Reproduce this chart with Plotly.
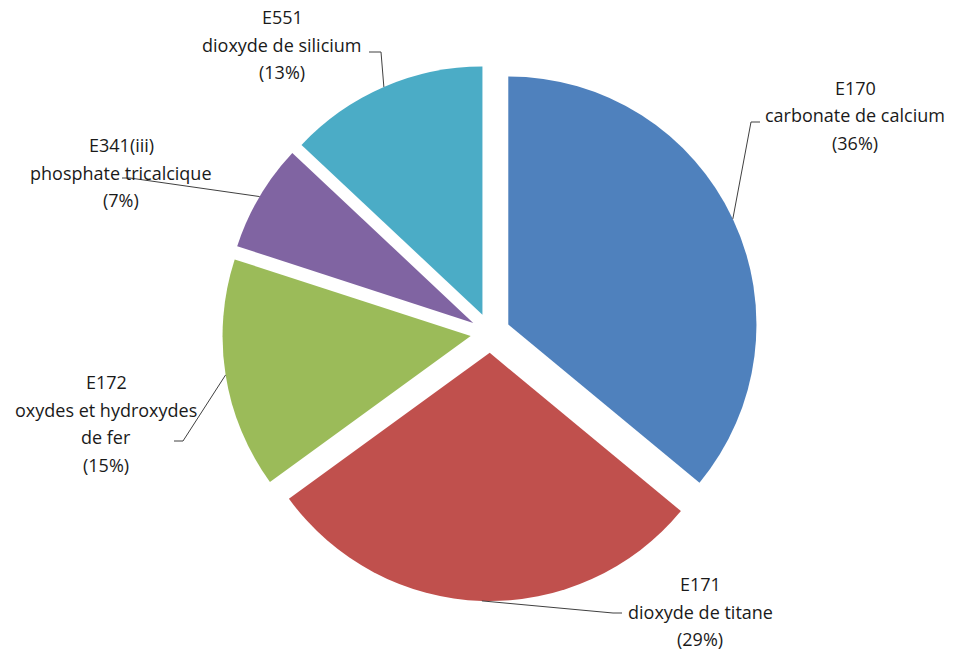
import math
import plotly.graph_objects as go

# ---- data ----
codes = ["E170", "E171", "E172", "E341(iii)", "E551"]
names = [
    ["carbonate de calcium"],
    ["dioxyde de titane"],
    ["oxydes et hydroxydes", "de fer"],
    ["phosphate tricalcique"],
    ["dioxyde de silicium"],
]
values = [36, 29, 15, 7, 13]

# ---- style / layout ----
colors = ["#4F81BD", "#C0504D", "#9BBB59", "#8064A2", "#4BACC6"]
W, H = 953, 657
pull = 0.08
dom_x = [0.2035, 0.8255]
dom_y = [0.0852, 0.9011]
font_family = "Open Sans"
font_size = 18
line_gap = 27.5
# label placement (pixels): text centre x, first line y, elbow point, hook end
label_cx = [855, 700, 106, 121, 282]
label_y0 = [88, 584, 382, 145, 17]
elbow = [(751, 122), (613, 613), (183, 441), (130, 178), (381, 52)]
hook_end = [(760, 122), (622, 613), (174, 441), (122, 178), (369, 52)]

fig = go.Figure(go.Pie(
    values=values,
    labels=codes,
    sort=False,
    direction="clockwise",
    rotation=0,
    pull=pull,
    textinfo="none",
    hoverinfo="label+percent",
    marker=dict(colors=colors, line=dict(width=0)),
    domain=dict(x=dom_x, y=dom_y),
    showlegend=False,
))

# pie geometry (mirrors plotly's own sizing)
box_w = W * (dom_x[1] - dom_x[0])
box_h = H * (dom_y[1] - dom_y[0])
r = min(box_w, box_h) / (2 + 2 * pull)
cx = W * (dom_x[0] + dom_x[1]) / 2
cy = H * (1 - dom_y[0]) - box_h / 2
total = sum(values)

def px(x):
    return x / W

def py(y):
    return 1 - y / H

annotations = []
shapes = []
start = 0.0
for i, v in enumerate(values):
    span = v / total * 360
    mid = math.radians(start + span / 2)
    start += span
    ex = cx + (1 + pull) * r * math.sin(mid)
    ey = cy - (1 + pull) * r * math.cos(mid)
    # leader line
    bx, by = elbow[i]
    hx, hy = hook_end[i]
    shapes.append(dict(type="line", xref="paper", yref="paper",
                       x0=px(ex), y0=py(ey), x1=px(bx), y1=py(by),
                       line=dict(color="#404040", width=1)))
    shapes.append(dict(type="line", xref="paper", yref="paper",
                       x0=px(bx), y0=py(by), x1=px(hx), y1=py(hy),
                       line=dict(color="#404040", width=1)))
    pct = round(v / total * 100)
    lines = [codes[i]] + names[i] + [f"({pct}%)"]
    for j, t in enumerate(lines):
        annotations.append(dict(
            text=t, xref="paper", yref="paper",
            x=px(label_cx[i]), y=py(label_y0[i] + j * line_gap),
            xanchor="center", yanchor="middle", showarrow=False,
            font=dict(family=font_family, size=font_size, color="#1a1a1a"),
        ))

fig.update_layout(
    width=W, height=H,
    margin=dict(l=0, r=0, t=0, b=0),
    paper_bgcolor="white",
    plot_bgcolor="white",
    annotations=annotations,
    shapes=shapes,
)

fig.write_html("out.html", config={"displayModeBar": False},
               post_script="document.body.style.margin='0px';")
